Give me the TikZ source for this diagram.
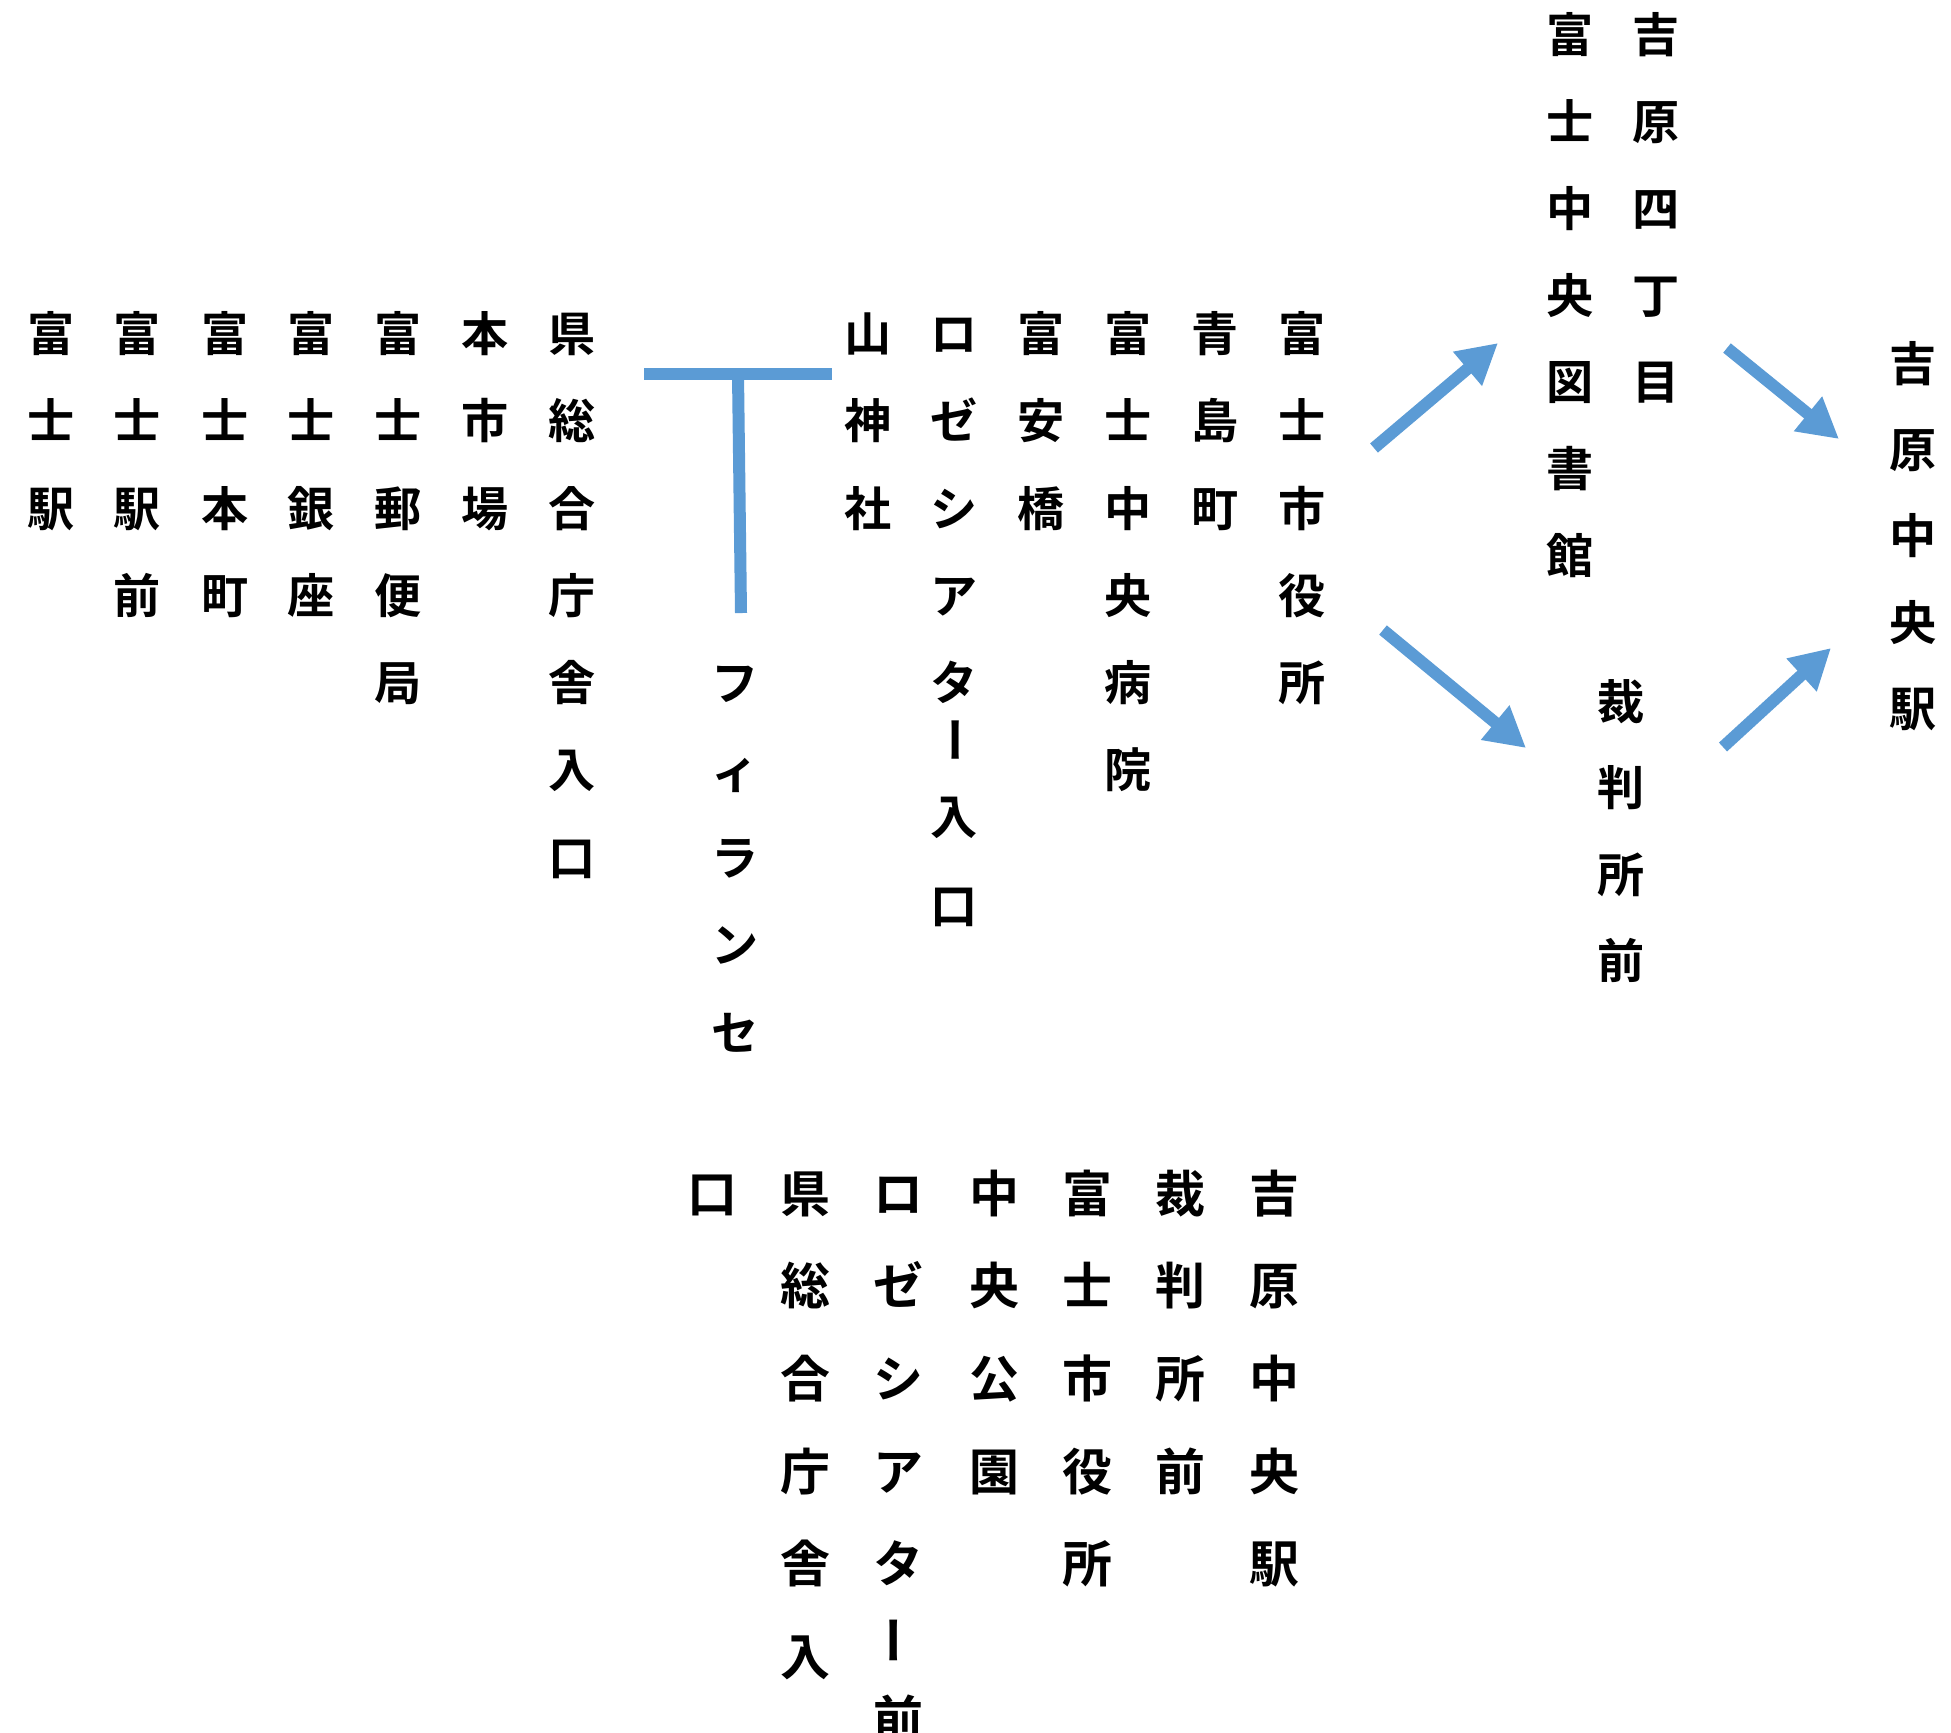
\documentclass[tikz,border=0pt]{standalone}
\usepackage{fontspec}
\newfontfamily\jp{Noto Sans CJK JP}[BoldFont={Noto Sans CJK JP Bold}]
\usetikzlibrary{arrows.meta}
\definecolor{lineblue}{HTML}{5B9BD5}
\begin{document}
\begin{tikzpicture}[x=0.01cm, y=-0.01cm]
\tikzstyle{stop}=[font=\jp\bfseries\fontsize{13.4}{16}\selectfont, inner sep=0, text height=11.8pt, text depth=1.6pt]
\tikzstyle{bigstop}=[font=\jp\bfseries\fontsize{14.2}{17}\selectfont, inner sep=0, text height=12.5pt, text depth=1.7pt]
\tikzstyle{bar}=[draw=lineblue, line width=0.12cm]
\tikzstyle{flow}=[draw=lineblue, line width=0.12cm, -{Triangle[length=0.4cm, width=0.42cm]}]

\clip (0,0) rectangle (1951,1732);

% Stops on the left
\foreach \ch [count=\k from 0] in {富,士,駅} \node[stop] (fujieki-\k) at (51,{333.5+87.3*\k}) {\ch};
\foreach \ch [count=\k from 0] in {富,士,駅,前} \node[stop] (ekimae-\k) at (137,{333.5+87.3*\k}) {\ch};
\foreach \ch [count=\k from 0] in {富,士,本,町} \node[stop] (honcho-\k) at (225,{333.5+87.3*\k}) {\ch};
\foreach \ch [count=\k from 0] in {富,士,銀,座} \node[stop] (ginza-\k) at (311,{333.5+87.3*\k}) {\ch};
\foreach \ch [count=\k from 0] in {富,士,郵,便,局} \node[stop] (yubin-\k) at (398,{333.5+87.3*\k}) {\ch};
\foreach \ch [count=\k from 0] in {本,市,場} \node[stop] (honichiba-\k) at (485,{333.5+87.3*\k}) {\ch};
\foreach \ch [count=\k from 0] in {県,総,合,庁,舎,入,口} \node[stop] (chosha-\k) at (572,{333.5+87.3*\k}) {\ch};

% T junction
\draw[bar] (644,374) -- (832,374);
\draw[bar] (738,374) -- (741,613);
\foreach \ch [count=\k from 0] in {フ,ィ,ラ,ン,セ} \node[stop] (fuirance-\k) at (735,{683+87.3*\k}) {\ch};

% Stops in the middle
\foreach \ch [count=\k from 0] in {山,神,社} \node[stop] (jinja-\k) at (868,{333.5+87.3*\k}) {\ch};
\foreach \ch [count=\k from 0] in {ロ,ゼ,シ,ア,タ} \node[stop] (roze-\k) at (954,{333.5+87.3*\k}) {\ch};
\node[stop, rotate=-90] (roze-5) at (955,740) {ー};
\node[stop] (roze-6) at (954,817) {入};
\node[stop] (roze-7) at (954,906) {口};
\foreach \ch [count=\k from 0] in {富,安,橋} \node[stop] (fuyasu-\k) at (1041,{333.5+87.3*\k}) {\ch};
\foreach \ch [count=\k from 0] in {富,士,中,央,病,院} \node[stop] (byoin-\k) at (1128,{333.5+87.3*\k}) {\ch};
\foreach \ch [count=\k from 0] in {青,島,町} \node[stop] (aoshima-\k) at (1215,{333.5+87.3*\k}) {\ch};
\foreach \ch [count=\k from 0] in {富,士,市,役,所} \node[stop] (shiyakusho-\k) at (1302,{333.5+87.3*\k}) {\ch};

% Stops on the right
\foreach \ch [count=\k from 0] in {富,士,中,央,図,書,館} \node[stop] (toshokan-\k) at (1570,{35+86.7*\k}) {\ch};
\foreach \ch [count=\k from 0] in {吉,原,四,丁,目} \node[stop] (yonchome-\k) at (1656,{35+86.7*\k}) {\ch};
\foreach \ch [count=\k from 0] in {裁,判,所,前} \node[stop] (saibansho-\k) at (1621,{701.5+86.5*\k}) {\ch};
\foreach \ch [count=\k from 0] in {吉,原,中,央,駅} \node[stop] (yoshiwara-\k) at (1913,{363.5+86.2*\k}) {\ch};

% Branches
\coordinate (splitup) at (1374,448);
\coordinate (libin) at (1498,343);
\coordinate (libout) at (1727,348);
\coordinate (endup) at (1839,439);
\coordinate (splitdown) at (1383,630);
\coordinate (courtin) at (1526,748);
\coordinate (courtout) at (1723,747);
\coordinate (enddown) at (1831,648);
\draw[flow] (splitup) -- (libin);
\draw[flow] (libout) -- (endup);
\draw[flow] (splitdown) -- (courtin);
\draw[flow] (courtout) -- (enddown);

% Stops at the bottom
\node[bigstop] (guchi-0) at (712,1193) {口};
\foreach \ch [count=\k from 0] in {県,総,合,庁,舎,入} \node[bigstop] (kencho-\k) at (805,{1193+92.7*\k}) {\ch};
\foreach \ch [count=\k from 0] in {ロ,ゼ,シ,ア,タ} \node[bigstop] (rozemae-\k) at (898,{1193+92.7*\k}) {\ch};
\node[bigstop, rotate=-90] (rozemae-5) at (893,1640) {ー};
\node[bigstop] (rozemae-6) at (898,1718) {前};
\foreach \ch [count=\k from 0] in {中,央,公,園} \node[bigstop] (koen-\k) at (994,{1193+92.7*\k}) {\ch};
\foreach \ch [count=\k from 0] in {富,士,市,役,所} \node[bigstop] (shiyaku-\k) at (1087,{1193+92.7*\k}) {\ch};
\foreach \ch [count=\k from 0] in {裁,判,所,前} \node[bigstop] (saiban-\k) at (1180,{1193+92.7*\k}) {\ch};
\foreach \ch [count=\k from 0] in {吉,原,中,央,駅} \node[bigstop] (chuoeki-\k) at (1274,{1193+92.7*\k}) {\ch};
\end{tikzpicture}
\end{document}
